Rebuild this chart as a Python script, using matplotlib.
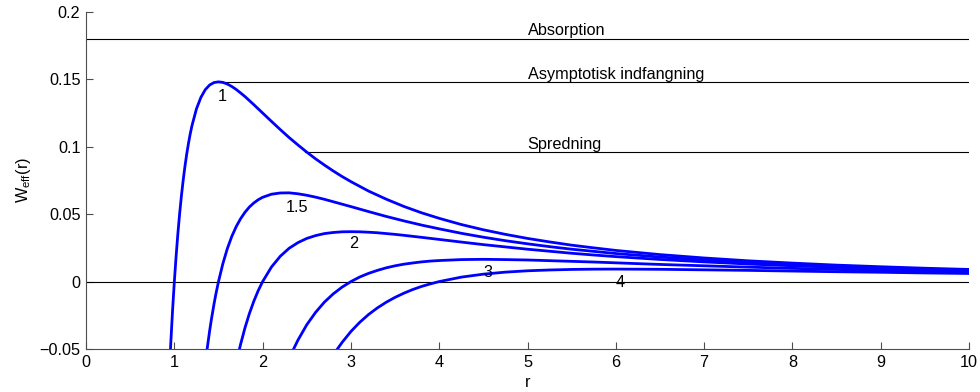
import matplotlib
matplotlib.use("Agg")
import matplotlib.pyplot as plt

plt.rcParams["font.family"] = ["Liberation Sans", "DejaVu Sans"]
plt.rcParams["mathtext.fontset"] = "custom"
plt.rcParams["mathtext.rm"] = "Liberation Sans"
plt.rcParams["mathtext.it"] = "Liberation Sans"

# W_eff(r) curves, one per label
r_1 = [0.955, 0.96, 0.98, 1.0, 1.02, 1.04, 1.06, 1.08, 1.1, 1.12, 1.14, 1.16, 1.18,
       1.2, 1.25, 1.3, 1.35, 1.4, 1.45, 1.5, 1.55, 1.6, 1.65, 1.7, 1.75, 1.8, 1.85,
       1.9, 1.95, 2.0, 2.1, 2.2, 2.3, 2.4, 2.5, 2.6, 2.7, 2.8, 2.9, 3.0, 3.2, 3.4,
       3.6, 3.8, 4.0, 4.25, 4.5, 4.75, 5.0, 5.25, 5.5, 5.75, 6.0, 6.5, 7, 7.5, 8,
       8.5, 9, 9.5, 10]
w_1 = [-0.0517, -0.0452, -0.0212, 0.0, 0.0188, 0.0356, 0.0504, 0.0635, 0.0751,
       0.0854, 0.0945, 0.1025, 0.1096, 0.1157, 0.1280, 0.1365, 0.1423, 0.1458,
       0.1476, 0.1481, 0.1477, 0.1465, 0.1447, 0.1425, 0.1399, 0.1372, 0.1342,
       0.1312, 0.1281, 0.125, 0.1188, 0.1127, 0.1068, 0.1013, 0.096, 0.0910,
       0.0864, 0.0820, 0.0779, 0.0741, 0.0671, 0.0611, 0.0557, 0.0510, 0.0469,
       0.0423, 0.0384, 0.0350, 0.032, 0.0294, 0.0270, 0.0250, 0.0231, 0.0200,
       0.0175, 0.0154, 0.0137, 0.0122, 0.0110, 0.0099, 0.009]

r_15 = [1.37, 1.4, 1.42, 1.45, 1.47, 1.5, 1.55, 1.6, 1.65, 1.7, 1.75, 1.8, 1.85,
        1.9, 1.95, 2.0, 2.1, 2.2, 2.3, 2.4, 2.5, 2.6, 2.7, 2.8, 2.9, 3.0, 3.2, 3.4,
        3.6, 3.8, 4.0, 4.25, 4.5, 4.75, 5.0, 5.25, 5.5, 5.75, 6.0, 6.5, 7, 7.5, 8,
        8.5, 9, 9.5, 10]
w_15 = [-0.0506, -0.0364, -0.0279, -0.0164, -0.0094, 0.0, 0.0134, 0.0244, 0.0334,
        0.0407, 0.0466, 0.0514, 0.0553, 0.0583, 0.0607, 0.0625, 0.0648, 0.0657,
        0.0658, 0.0651, 0.064, 0.0626, 0.0610, 0.0592, 0.0574, 0.0556, 0.0519,
        0.0483, 0.0450, 0.0419, 0.0391, 0.0358, 0.0329, 0.0303, 0.028, 0.0259,
        0.0240, 0.0224, 0.0208, 0.0182, 0.0160, 0.0142, 0.0127, 0.0114, 0.0103,
        0.0093, 0.0085]

r_2 = [1.73, 1.75, 1.8, 1.85, 1.9, 1.95, 2.0, 2.1, 2.2, 2.3, 2.4, 2.5, 2.6, 2.7,
       2.8, 2.9, 3.0, 3.1, 3.2, 3.3, 3.4, 3.5, 3.6, 3.8, 4.0, 4.25, 4.5, 4.75, 5.0,
       5.25, 5.5, 5.75, 6.0, 6.5, 7, 7.5, 8, 8.5, 9, 9.5, 10]
w_2 = [-0.0521, -0.0466, -0.0343, -0.0237, -0.0146, -0.0067, 0.0, 0.0108, 0.0188,
       0.0247, 0.0289, 0.032, 0.0341, 0.0356, 0.0364, 0.0369, 0.0370, 0.0369,
       0.0366, 0.0362, 0.0356, 0.0350, 0.0343, 0.0328, 0.03125, 0.0293, 0.0274,
       0.0257, 0.024, 0.0225, 0.0210, 0.0197, 0.0185, 0.0164, 0.0146, 0.0130,
       0.0117, 0.0106, 0.0096, 0.0087, 0.008]

r_3 = [2.35, 2.4, 2.5, 2.6, 2.7, 2.8, 2.9, 3.0, 3.1, 3.2, 3.3, 3.4, 3.5, 3.6, 3.7,
       3.8, 3.9, 4.0, 4.25, 4.5, 4.75, 5.0, 5.25, 5.5, 5.75, 6.0, 6.5, 7, 7.5, 8,
       8.5, 9, 9.5, 10]
w_3 = [-0.0501, -0.0434, -0.032, -0.0228, -0.0152, -0.0091, -0.0041, 0.0, 0.0034,
       0.0061, 0.0083, 0.0102, 0.0117, 0.0129, 0.0138, 0.0146, 0.0152, 0.0156,
       0.0163, 0.0165, 0.0163, 0.016, 0.0155, 0.0150, 0.0145, 0.0139, 0.0127,
       0.0117, 0.0107, 0.0098, 0.0090, 0.0082, 0.0076, 0.007]

r_4 = [2.84, 2.9, 3.0, 3.1, 3.2, 3.3, 3.4, 3.5, 3.6, 3.7, 3.8, 3.9, 4.0, 4.25, 4.5,
       4.75, 5.0, 5.25, 5.5, 5.75, 6.0, 6.5, 7, 7.5, 8, 8.5, 9, 9.5, 10]
w_4 = [-0.0506, -0.0451, -0.0370, -0.0302, -0.0244, -0.0195, -0.0153, -0.0117,
       -0.0086, -0.0059, -0.0036, -0.0017, 0.0, 0.0033, 0.0055, 0.0070, 0.008,
       0.0086, 0.0090, 0.0092, 0.00926, 0.0091, 0.0087, 0.0083, 0.0078, 0.0073,
       0.0069, 0.0064, 0.006]

curve_labels = ["1", "1.5", "2", "3", "4"]
label_x = [1.54, 2.39, 3.03, 4.55, 6.05]
label_y = [0.137, 0.055, 0.028, 0.0064, -0.001]

# horizontal levels: value, start r, name
level_values = [0.18, 0.148, 0.096, 0.0]
level_start = [0.0, 1.5, 2.48, 0.0]
level_names = ["Absorption", "Asymptotisk indfangning", "Spredning", ""]

FS = 11.7

fig = plt.figure(figsize=(9.8, 3.92), dpi=100)
ax = fig.add_axes([0.0878, 0.1097, 0.901, 0.860])

for lv, x0, name in zip(level_values, level_start, level_names):
    ax.plot([x0, 10], [lv, lv], color="black", lw=0.8)
    if name:
        ax.text(5.0, lv + 0.0003, name, fontsize=FS, ha="left", va="bottom")

for r, w in [(r_1, w_1), (r_15, w_15), (r_2, w_2), (r_3, w_3), (r_4, w_4)]:
    ax.plot(r, w, color="#0000ff", lw=2.0, solid_joinstyle="round")

for lab, x, y in zip(curve_labels, label_x, label_y):
    ax.text(x, y, lab, fontsize=FS, ha="center", va="center")

ax.set_xlim(0, 10)
ax.set_ylim(-0.05, 0.2)
ax.set_xticks(range(0, 11))
ax.set_yticks([-0.05, 0, 0.05, 0.1, 0.15, 0.2])
ax.set_yticklabels(["\u22120.05", "0", "0.05", "0.1", "0.15", "0.2"])
ax.tick_params(direction="in", length=5, width=0.8, color="0.3", labelsize=FS, pad=4)
for side in ["top", "right"]:
    ax.spines[side].set_visible(False)
for side in ["left", "bottom"]:
    ax.spines[side].set_color("0.3")
    ax.spines[side].set_linewidth(0.8)

ax.set_xlabel("r", fontsize=FS, labelpad=4)
ax.set_ylabel(r"W$_{\mathrm{eff}}$(r)", fontsize=FS, labelpad=5)

fig.savefig("out.png", dpi=100)
